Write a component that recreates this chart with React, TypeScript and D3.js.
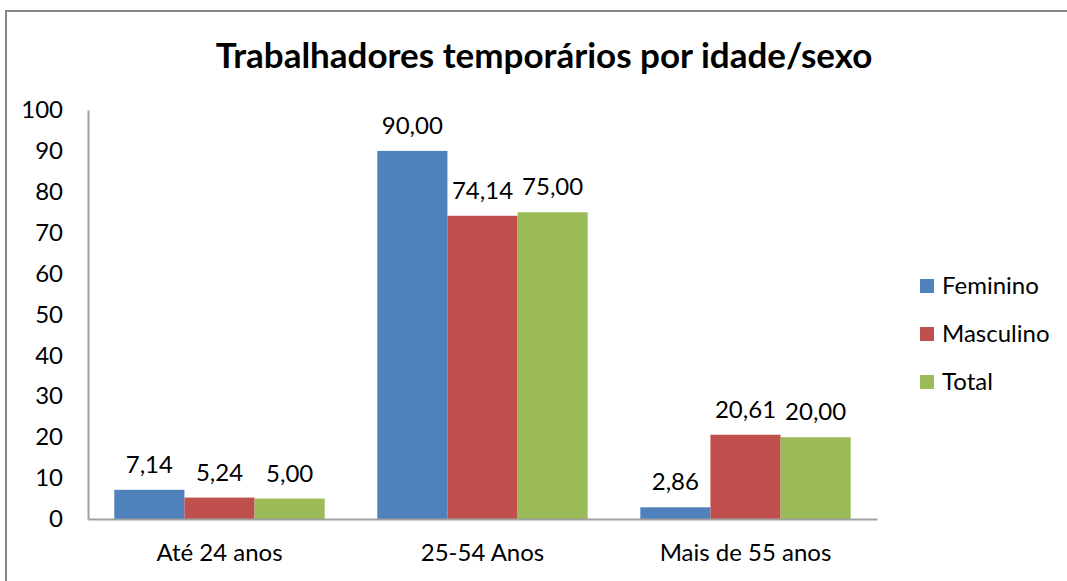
import React from 'react';
import * as d3 from 'd3';

const categories = ['Até 24 anos', '25-54 Anos', 'Mais de 55 anos'];
const seriesNames = ['Feminino', 'Masculino', 'Total'];
const feminino = [7.14, 90.0, 2.86];
const masculino = [5.24, 74.14, 20.61];
const total = [5.0, 75.0, 20.0];
const colors = ['#4f81bd', '#c0504d', '#9bbb59'];
const yTicks = [0, 10, 20, 30, 40, 50, 60, 70, 80, 90, 100];

const W = 1067;
const H = 581;
const font = 'Lato, "Open Sans", sans-serif';

export default function App() {
  const axisRef = React.useRef<SVGGElement>(null);

  const x0 = d3.scaleBand().domain(categories).range([88, 877]).paddingInner(0.2).paddingOuter(0.1);
  const x1 = d3.scaleBand().domain(seriesNames).range([0, x0.bandwidth()]);
  const y = d3.scaleLinear().domain([0, 100]).range([519, 110]);
  const values = [feminino, masculino, total];
  const fmt = (v: number) => v.toFixed(2).replace('.', ',');

  React.useEffect(() => {
    const g = d3.select(axisRef.current);
    g.selectAll('*').remove();
    const yAxis = d3.axisLeft(y).tickValues(yTicks).tickSize(0).tickPadding(25);
    const ya = g.append('g').attr('transform', 'translate(88,0)').call(yAxis);
    ya.select('.domain').attr('stroke', '#a0a0a0').attr('stroke-width', 2);
    ya.selectAll('text').attr('font-size', 24).attr('font-family', font).attr('fill', '#000');
    const xAxis = d3.axisBottom(x0).tickSize(0).tickPadding(25);
    const xa = g.append('g').attr('transform', 'translate(0,519)').call(xAxis);
    xa.select('.domain').attr('stroke', '#a0a0a0').attr('stroke-width', 2);
    xa.selectAll('text').attr('font-size', 24).attr('font-family', font).attr('fill', '#000');
  }, []);

  return (
    <svg width={W} height={H} style={{ position: 'absolute', left: 0, top: 0 }}>
      <rect x={0} y={0} width={W} height={H} fill="#fff" />
      <rect x={6} y={11} width={W} height={H} fill="none" stroke="#868686" strokeWidth={2} />
      <text x={544} y={68} textAnchor="middle" fontFamily={font} fontWeight="bold" fontSize={35} fill="#000">
        Trabalhadores temporários por idade/sexo
      </text>
      {categories.map((c, i) => (
        <g key={c} transform={`translate(${x0(c)},0)`}>
          {seriesNames.map((s, j) => (
            <g key={s}>
              <rect
                x={x1(s)}
                y={y(values[j][i])}
                width={x1.bandwidth()}
                height={y(0) - y(values[j][i])}
                fill={colors[j]}
              />
              <text
                x={(x1(s) as number) + x1.bandwidth() / 2}
                y={y(values[j][i]) - 17}
                textAnchor="middle"
                fontFamily={font}
                fontSize={24}
                fill="#000"
              >
                {fmt(values[j][i])}
              </text>
            </g>
          ))}
        </g>
      ))}
      <g ref={axisRef} />
      {seriesNames.map((s, j) => (
        <g key={s} transform={`translate(920,${279 + j * 48})`}>
          <rect width={14} height={14} fill={colors[j]} />
          <text x={22} y={15} fontFamily={font} fontSize={24} fill="#000">{s}</text>
        </g>
      ))}
    </svg>
  );
}
